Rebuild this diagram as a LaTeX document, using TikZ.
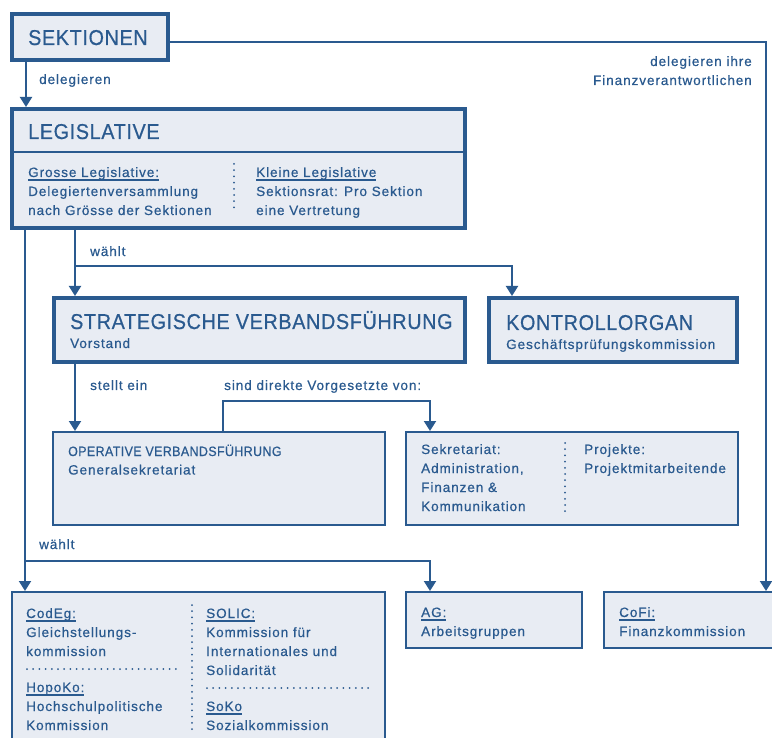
\documentclass[tikz,border=0pt]{standalone}
\usepackage{fontspec}
\setmainfont{Liberation Sans}[LetterSpace=7,FakeBold=0.6]
\newfontfamily\titlef{Liberation Sans}[FakeStretch=0.92,LetterSpace=3,FakeBold=0.6]
\usetikzlibrary{arrows.meta}
\definecolor{blu}{HTML}{2A5A8F}
\definecolor{lite}{HTML}{E8ECF3}
\newsavebox\ulbox
\newcommand\ulx[1]{\sbox\ulbox{#1}\rlap{\rule[-3.6pt]{\wd\ulbox}{1.3pt}}\usebox\ulbox}
\newcommand\lns[1]{\begin{tabular}[t]{@{}l@{}}#1\end{tabular}}
\newcommand\rlns[1]{\begin{tabular}[t]{@{}r@{}}#1\end{tabular}}
\begin{document}
\begin{tikzpicture}[x=1pt,y=-1pt,
  thickbox/.style={draw=blu,fill=lite,line width=4pt,inner sep=0pt,anchor=north west},
  thinbox/.style={draw=blu,fill=lite,line width=2.2pt,inner sep=0pt,anchor=north west},
  conn/.style={draw=blu,line width=2pt},
  arr/.style={conn,-{Triangle[width=12pt,length=10pt]}},
  txt/.style={anchor=base west,inner sep=0pt,text=blu,font=\fontsize{13.5}{19}\selectfont},
  ttl/.style={anchor=base west,inner sep=0pt,text=blu,font=\titlef\fontsize{21.5}{25}\selectfont},
  stl/.style={anchor=base west,inner sep=0pt,text=blu,font=\titlef\fontsize{13.5}{19}\selectfont},
  dots/.style={draw=blu,line width=2pt,line cap=round,dash pattern=on 0pt off 6.2pt}]
\useasboundingbox (0,0) rectangle (772,738);
\fill[white] (0,0) rectangle (772,738);

% boxes
\node[thickbox,minimum width=156pt,minimum height=46pt] (sek) at (10,12) {};
\node[thickbox,minimum width=453pt,minimum height=119pt] (leg) at (10,107) {};
\node[thickbox,minimum width=411pt,minimum height=64pt] (strat) at (52,296) {};
\node[thickbox,minimum width=248pt,minimum height=64pt] (kon) at (487,296) {};
\node[thinbox,minimum width=331.8pt,minimum height=92.8pt] (oper) at (52,431) {};
\node[thinbox,minimum width=331.8pt,minimum height=92.8pt] (sekr) at (405,431) {};
\node[thinbox,minimum width=372.8pt,minimum height=166.8pt] (codeg) at (11,591) {};
\node[thinbox,minimum width=175.8pt,minimum height=55.8pt] (ag) at (405,591) {};
\node[thinbox,minimum width=184.8pt,minimum height=55.8pt] (cofi) at (603,591) {};

\draw[blu,line width=2.2pt] (leg.west |- 0,152) -- (leg.east |- 0,152);

% connectors
\coordinate (a1) at ([xshift=16pt]sek.south west);
\draw[arr] (a1) -- (a1 |- leg.north);
\draw[arr] ([yshift=-5pt]sek.east) -| ([xshift=163pt]cofi.north west);

\coordinate (b1) at ([xshift=15pt]leg.south west);
\draw[arr] (b1) -- (b1 |- codeg.north);
\coordinate (j2) at (b1 |- 0,561);
\draw[arr] (j2) -| ([xshift=25pt]ag.north west);

\coordinate (b2) at ([xshift=65pt]leg.south west);
\draw[arr] (b2) -- (b2 |- strat.north);
\coordinate (j1) at (b2 |- 0,266);
\draw[arr] (j1) -| ([xshift=25pt]kon.north west);

\coordinate (c1) at ([xshift=23pt]strat.south west);
\draw[arr] (c1) -- (c1 |- oper.north);

\coordinate (d1) at ([xshift=171pt]oper.north west);
\coordinate (d2) at (d1 |- 0,401);
\draw[arr] (d1) -- (d2) -| ([xshift=25pt]sekr.north west);

% labels
\node[txt] (l1) at (39,84) {delegieren};
\node[txt,anchor=base east] (l2) at (752,66) {\rlns{delegieren ihre\\Finanzverantwortlichen}};
\node[txt] (l3) at (90,256) {wählt};
\node[txt] (l4) at (90,390) {stellt ein};
\node[txt] (l5) at (224,390) {sind direkte Vorgesetzte von:};
\node[txt] (l6) at (39,549) {wählt};

% texts
\node[ttl] (tsek) at (28,45) {SEKTIONEN};
\node[ttl] (tleg) at (28,139) {LEGISLATIVE};
\node[txt] (gl) at (28,177) {\lns{\ulx{Grosse Legislative:}\\Delegiertenversammlung\\nach Grösse der Sektionen}};
\draw[dots] (234,164) -- (234,212);
\node[txt] (kl) at (256,177) {\lns{\ulx{Kleine Legislative}\\Sektionsrat: Pro Sektion\\eine Vertretung}};

\node[ttl] (tstrat) at (70,329) {STRATEGISCHE VERBANDSFÜHRUNG};
\node[txt] (vst) at (70,348) {Vorstand};
\node[ttl] (tkon) at (506,330) {KONTROLLORGAN};
\node[txt] (gpk) at (506,349) {Geschäftsprüfungskommission};

\node[stl] (toper) at (68,456) {OPERATIVE VERBANDSFÜHRUNG};
\node[txt] (gs) at (68,474.5) {Generalsekretariat};

\node[txt] (sk) at (421,454) {\lns{Sekretariat:\\Administration,\\Finanzen \&\\Kommunikation}};
\draw[dots] (565,443) -- (565,512);
\node[txt] (pj) at (584,454) {\lns{Projekte:\\Projektmitarbeitende}};

\node[txt] (cg) at (26,618) {\lns{\ulx{CodEg:}\\Gleichstellungs-\\kommission}};
\draw[dots] (27,669) -- (176,669);
\node[txt] (hk) at (26,692) {\lns{\ulx{HopoKo:}\\Hochschulpolitische\\Kommission}};
\draw[dots] (192,605) -- (192,730);
\node[txt] (so) at (206,618) {\lns{\ulx{SOLIC:}\\Kommission für\\Internationales und\\Solidarität}};
\draw[dots] (207,688) -- (370,688);
\node[txt] (sz) at (206,711) {\lns{\ulx{SoKo}\\Sozialkommission}};

\node[txt] (agt) at (421,617) {\lns{\ulx{AG:}\\Arbeitsgruppen}};
\node[txt] (cft) at (619,617) {\lns{\ulx{CoFi:}\\Finanzkommission}};
\end{tikzpicture}
\end{document}
